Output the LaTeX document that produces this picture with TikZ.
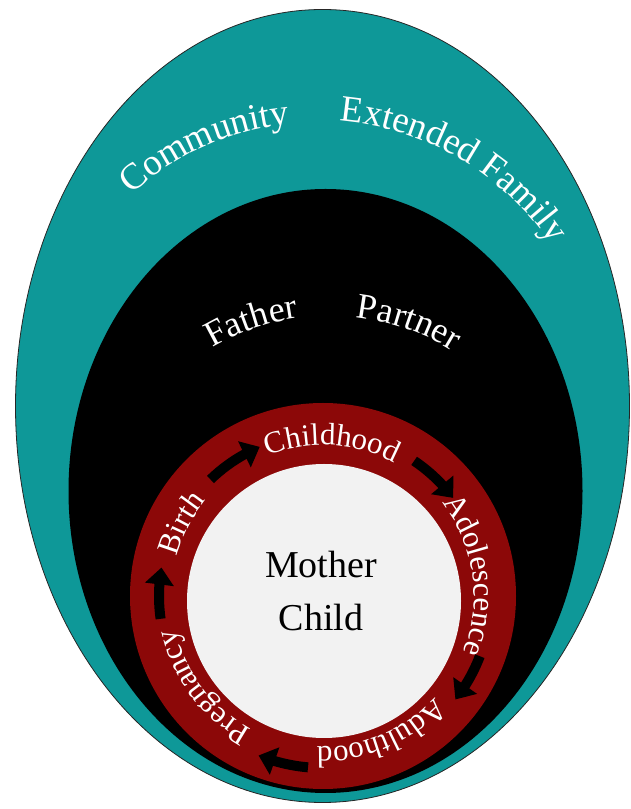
\documentclass[tikz,border=0pt]{standalone}
\usepackage{fontspec}
\setmainfont{Liberation Serif}
\usetikzlibrary{decorations.text, arrows.meta, bending}
\definecolor{tealc}{RGB}{14,152,152}
\definecolor{ringred}{RGB}{140,8,8}
\definecolor{innerw}{RGB}{242,242,242}
\newcommand\outerfnt{\fontsize{37}{37}\selectfont}
\newcommand\midfnt{\fontsize{36}{36}\selectfont}
\newcommand\corefnt{\fontsize{38}{38}\selectfont}
\newcommand\ringfnt{\fontsize{31}{31}\selectfont}
\tikzset{
  arrowst/.style={line width=10pt, black, -{Triangle[width=28pt,length=17pt]}},
  curvetext/.style={decorate, decoration={text along path, text align=left, text color=white, text={#1}}}
}
\begin{document}
\begin{tikzpicture}[x=1pt,y=1pt]
\useasboundingbox (0,0) rectangle (631,809);
% layers
\path[fill=tealc, draw=black!85, line width=0.8pt] (322.5,403) ellipse[x radius=307, y radius=396.5];
\fill[black] (325.5,318) ellipse[x radius=257, y radius=302];
\fill[ringred] (323,213) circle[radius=193];
\fill[innerw] (324,208) circle[radius=137];
\coordinate (oc) at (315,414);
\coordinate (fc) at (330,261);
\coordinate (rc) at (323,213);
% core text
\node[font=\corefnt, anchor=base] (mother) at (321,231) {Mother};
\node[font=\corefnt, anchor=base] (child) at (321,178) {Child};
% outer text
\path[curvetext={|\outerfnt|Community}] (oc) ++(132.5:272) arc[start angle=132.5, end angle=60, radius=272];
\path[curvetext={|\outerfnt|Extended Family}] (oc) ++(85:282 and 275) arc[start angle=85, end angle=-20, x radius=282, y radius=275];
% middle text
\path[curvetext={|\midfnt|Father}] (fc) ++(120.5:232) arc[start angle=120.5, end angle=60, radius=232];
\path[curvetext={|\midfnt|Partner}] (fc) ++(83.6:232) arc[start angle=83.6, end angle=20, radius=232];
% ring text
\path[curvetext={|\ringfnt|Birth}] (rc) ++(165:151) arc[start angle=165, end angle=100, radius=151];
\path[curvetext={|\ringfnt|Childhood}] (rc) ++(111.5:151) arc[start angle=111.5, end angle=40, radius=151];
\path[curvetext={|\ringfnt|Adolescence}] (rc) ++(38:151) arc[start angle=38, end angle=-40, radius=151];
\path[curvetext={|\ringfnt|Adulthood}] (rc) ++(-42:151) arc[start angle=-42, end angle=-110, radius=151];
\path[curvetext={|\ringfnt|Pregnancy}] (rc) ++(242:151) arc[start angle=242, end angle=170, radius=151];
% arrows
\draw[arrowst] (rc) ++(134:162) arc[start angle=134, end angle=113, radius=162];
\draw[arrowst] (rc) ++(56:163) arc[start angle=56, end angle=37, radius=163];
\draw[arrowst] (rc) ++(-21:168) arc[start angle=-21, end angle=-38, radius=168];
\draw[arrowst] (rc) ++(-95:172) arc[start angle=-95, end angle=-112, radius=172];
\draw[arrowst] (rc) ++(188:164) arc[start angle=188, end angle=170, radius=164];
\end{tikzpicture}
\end{document}
